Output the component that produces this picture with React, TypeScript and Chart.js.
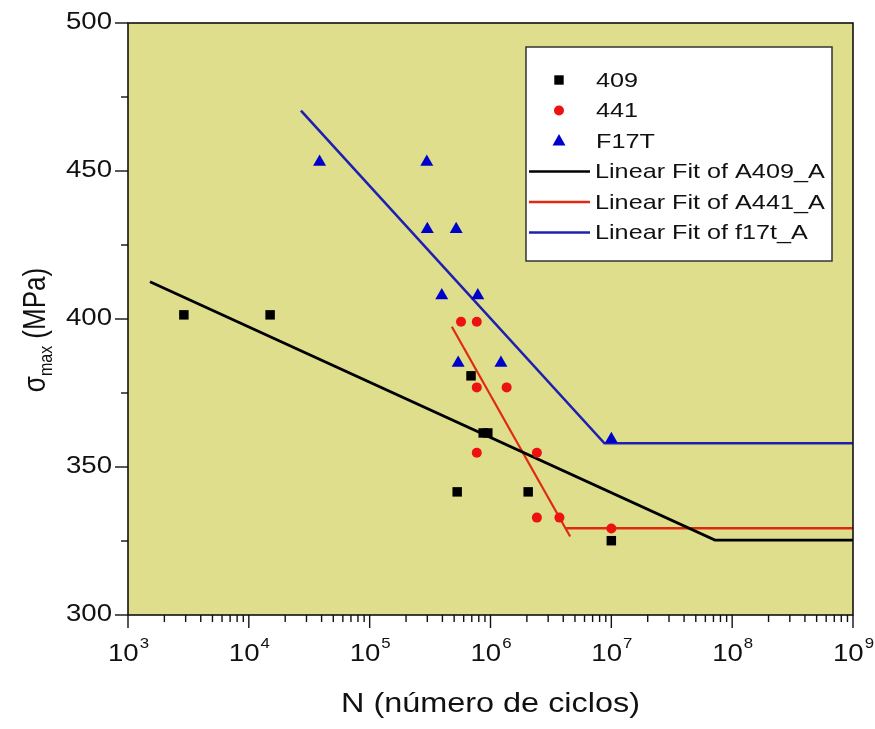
import React, { useEffect, useRef } from "react";
import { Chart, registerables } from "chart.js";

Chart.register(...registerables);

// ---- data ----
const n409 = [2.9e3, 1.5e4, 5.3e5, 6.9e5, 8.7e5, 9.5e5, 2.05e6, 1.0e7];
const s409 = [401.4, 401.4, 341.6, 380.8, 361.5, 361.5, 341.6, 325.1];

const n441 = [5.7e5, 7.7e5, 7.7e5, 1.36e6, 7.7e5, 2.42e6, 2.42e6, 3.72e6, 1.0e7];
const s441 = [399.1, 399.1, 376.9, 376.9, 354.8, 354.8, 332.9, 332.9, 329.2];

const nF17T = [3.85e4, 2.97e5, 3.0e5, 5.2e5, 3.95e5, 7.85e5, 5.4e5, 1.22e6, 1.0e7];
const sF17T = [453.0, 453.0, 430.3, 430.3, 407.9, 407.9, 385.1, 385.1, 359.4];

const fit409N = [1.52e3, 7.2e7, 1e9];
const fit409S = [412.6, 325.3, 325.3];

const fit441N = [4.79e5, 4.56e6];
const fit441S = [397.4, 326.5];
const fit441FlatN = [4.23e6, 1e9];
const fit441FlatS = [329.3, 329.3];

const fitF17TN = [2.7e4, 8.77e6, 1e9];
const fitF17TS = [470.4, 358.0, 358.0];

const yMajorTicks = [300, 350, 400, 450, 500];
const yMinorTicks = [325, 375, 425, 475];
const xExponents = [3, 4, 5, 6, 7, 8, 9];

const legendLabels = ["409", "441", "F17T", "Linear Fit of A409_A", "Linear Fit of A441_A", "Linear Fit of f17t_A"];
const xTitle = "N (número de ciclos)";

// ---- styles ----
const BG = "#dede8c";
const BLACK = "#000000";
const RED = "#ee1111";
const RED_LINE = "#e02a10";
const BLUE = "#0000cc";
const BLUE_LINE = "#2020b0";
const FONT = "'Liberation Sans', Arial, sans-serif";
const SX = 1.2;

const pts = (xs: number[], ys: number[]) => xs.map((x, i) => ({ x, y: ys[i] }));

function stretchText(ctx: CanvasRenderingContext2D, text: string, x: number, y: number, size: number, align: CanvasTextAlign, baseline: CanvasTextBaseline) {
  ctx.save();
  ctx.font = `${size}px ${FONT}`;
  ctx.textAlign = align;
  ctx.textBaseline = baseline;
  ctx.translate(x, y);
  ctx.scale(SX, 1);
  ctx.fillText(text, 0, 0);
  ctx.restore();
}

function drawMarker(ctx: CanvasRenderingContext2D, kind: string, x: number, y: number) {
  ctx.save();
  ctx.beginPath();
  if (kind === "rect") {
    ctx.fillStyle = BLACK;
    ctx.rect(x - 4.7, y - 4.7, 9.4, 9.4);
  } else if (kind === "circle") {
    ctx.fillStyle = RED;
    ctx.arc(x, y, 5, 0, Math.PI * 2);
  } else {
    ctx.fillStyle = BLUE;
    ctx.moveTo(x, y - 7);
    ctx.lineTo(x + 6.5, y + 4.5);
    ctx.lineTo(x - 6.5, y + 4.5);
    ctx.closePath();
  }
  ctx.fill();
  ctx.restore();
}

const decorPlugin = {
  id: "decor",
  beforeDraw(chart: any) {
    const { ctx, chartArea: a } = chart;
    ctx.save();
    ctx.fillStyle = BG;
    ctx.fillRect(a.left, a.top, a.right - a.left, a.bottom - a.top);
    ctx.restore();
  },
  afterDraw(chart: any) {
    const { ctx, chartArea: a } = chart;
    const xs = chart.scales.x;
    const ys = chart.scales.y;
    ctx.save();
    ctx.strokeStyle = "#111";
    ctx.fillStyle = "#111";
    ctx.lineWidth = 1.6;
    ctx.strokeRect(a.left, a.top, a.right - a.left, a.bottom - a.top);

    // y ticks
    ctx.lineWidth = 1.4;
    yMajorTicks.forEach((v) => {
      const py = ys.getPixelForValue(v);
      ctx.beginPath();
      ctx.moveTo(a.left - 13, py);
      ctx.lineTo(a.left, py);
      ctx.stroke();
      stretchText(ctx, String(v), a.left - 16, py, 23, "right", "middle");
    });
    yMinorTicks.forEach((v) => {
      const py = ys.getPixelForValue(v);
      ctx.beginPath();
      ctx.moveTo(a.left - 7, py);
      ctx.lineTo(a.left, py);
      ctx.stroke();
    });

    // x ticks
    xExponents.forEach((e, idx) => {
      const px = xs.getPixelForValue(Math.pow(10, e));
      ctx.beginPath();
      ctx.moveTo(px, a.bottom);
      ctx.lineTo(px, a.bottom + 13);
      ctx.stroke();
      if (idx < xExponents.length - 1) {
        for (let m = 2; m <= 9; m++) {
          const mx = xs.getPixelForValue(m * Math.pow(10, e));
          ctx.beginPath();
          ctx.moveTo(mx, a.bottom);
          ctx.lineTo(mx, a.bottom + 7);
          ctx.stroke();
        }
      }
      // label 10^e
      ctx.font = `23px ${FONT}`;
      const w1 = ctx.measureText("10").width * SX;
      ctx.font = `14px ${FONT}`;
      const w2 = ctx.measureText(String(e)).width * SX;
      const start = px - (w1 + w2) / 2;
      stretchText(ctx, "10", start, a.bottom + 46, 23, "left", "alphabetic");
      stretchText(ctx, String(e), start + w1 + 1, a.bottom + 33, 14, "left", "alphabetic");
    });

    // x title
    stretchText(ctx, xTitle, (a.left + a.right) / 2, a.bottom + 97, 27, "center", "alphabetic");

    // y title (rotated)
    ctx.save();
    ctx.translate(45, 330);
    ctx.rotate(-Math.PI / 2);
    ctx.scale(1, SX);
    ctx.textBaseline = "alphabetic";
    ctx.textAlign = "left";
    ctx.font = `26px ${FONT}`;
    const wSig = ctx.measureText("σ").width;
    ctx.font = `16px ${FONT}`;
    const wMax = ctx.measureText("max").width;
    ctx.font = `26px ${FONT}`;
    const wRest = ctx.measureText(" (MPa)").width;
    const total = wSig + wMax + wRest;
    let cx = -total / 2;
    ctx.fillText("σ", cx, 0);
    cx += wSig;
    ctx.font = `16px ${FONT}`;
    ctx.fillText("max", cx, 6);
    cx += wMax;
    ctx.font = `26px ${FONT}`;
    ctx.fillText(" (MPa)", cx, 0);
    ctx.restore();

    // legend
    const lx = 526, ly = 47, lw = 306, lh = 214;
    ctx.fillStyle = "#ffffff";
    ctx.fillRect(lx, ly, lw, lh);
    ctx.strokeStyle = "#333";
    ctx.lineWidth = 1.5;
    ctx.strokeRect(lx, ly, lw, lh);
    const rowY = (i: number) => 80 + i * 30.5;
    drawMarker(ctx, "rect", 559, rowY(0));
    drawMarker(ctx, "circle", 559, rowY(1));
    drawMarker(ctx, "triangle", 559, rowY(2));
    const lineCols = [BLACK, RED_LINE, BLUE_LINE];
    for (let i = 0; i < 3; i++) {
      ctx.strokeStyle = lineCols[i];
      ctx.lineWidth = 2.5;
      ctx.beginPath();
      ctx.moveTo(529, rowY(3 + i));
      ctx.lineTo(590, rowY(3 + i));
      ctx.stroke();
    }
    ctx.fillStyle = "#111";
    legendLabels.forEach((t, i) => {
      stretchText(ctx, t, i < 3 ? 596 : 595, rowY(i) + 1, 21, "left", "middle");
    });
    ctx.restore();
  },
};

export default function App() {
  const ref = useRef<HTMLCanvasElement | null>(null);
  useEffect(() => {
    if (!ref.current) return;
    const chart = new Chart(ref.current, {
      type: "scatter",
      data: {
        datasets: [
          { label: "409", data: pts(n409, s409), pointStyle: "rect", pointRadius: 6.7, backgroundColor: BLACK, borderWidth: 0, showLine: false },
          { label: "441", data: pts(n441, s441), pointStyle: "circle", pointRadius: 5, backgroundColor: RED, borderWidth: 0, showLine: false },
          { label: "F17T", data: pts(nF17T, sF17T), pointStyle: "triangle", pointRadius: 7.5, backgroundColor: BLUE, borderWidth: 0, showLine: false },
          { label: "Linear Fit of A409_A", data: pts(fit409N, fit409S), showLine: true, pointRadius: 0, borderColor: BLACK, borderWidth: 2.8 },
          { label: "Linear Fit of A441_A", data: pts(fit441N, fit441S), showLine: true, pointRadius: 0, borderColor: RED_LINE, borderWidth: 2.2 },
          { label: "fit441flat", data: pts(fit441FlatN, fit441FlatS), showLine: true, pointRadius: 0, borderColor: RED_LINE, borderWidth: 2.6 },
          { label: "Linear Fit of f17t_A", data: pts(fitF17TN, fitF17TS), showLine: true, pointRadius: 0, borderColor: BLUE_LINE, borderWidth: 2.6 },
        ] as any,
      },
      options: {
        animation: false,
        responsive: false,
        maintainAspectRatio: false,
        layout: { padding: { left: 128, right: 22, top: 23, bottom: 114 } },
        scales: {
          x: { type: "logarithmic", min: 1e3, max: 1e9, display: false },
          y: { type: "linear", min: 300, max: 500, display: false },
        },
        plugins: { legend: { display: false }, tooltip: { enabled: false } },
      } as any,
      plugins: [decorPlugin],
    });
    return () => chart.destroy();
  }, []);
  return (
    <div style={{ position: "fixed", left: 0, top: 0, width: 875, height: 729, background: "#fff" }}>
      <canvas ref={ref} width={875} height={729} style={{ display: "block" }} />
    </div>
  );
}
